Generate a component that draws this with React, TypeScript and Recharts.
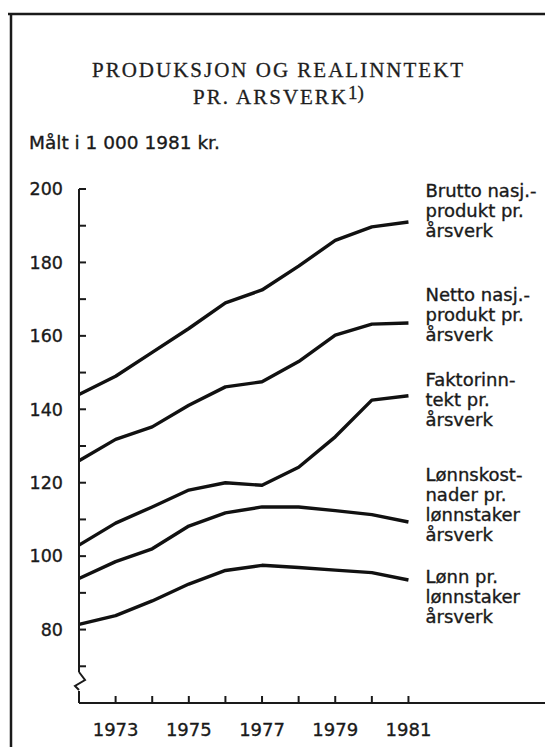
import { LabelList, Line, LineChart, XAxis, YAxis } from "recharts";

const years = [1972, 1973, 1974, 1975, 1976, 1977, 1978, 1979, 1980, 1981];
const bruttoNasjProdukt = [144, 149, 155.5, 162, 169, 172.5, 179, 186, 189.7, 191];
const nettoNasjProdukt = [126, 131.8, 135.2, 141.1, 146.1, 147.5, 153, 160.2, 163.2, 163.5];
const faktorinntekt = [103, 109, 113.4, 118, 120, 119.3, 124.2, 132.5, 142.5, 143.7];
const lonnskostnader = [93.9, 98.5, 102, 108.2, 111.8, 113.4, 113.4, 112.4, 111.3, 109.3];
const lonn = [81.4, 83.8, 87.8, 92.4, 96.1, 97.5, 96.9, 96.2, 95.5, 93.5];

const yTicks = [60, 70, 80, 90, 100, 110, 120, 130, 140, 150, 160, 170, 180, 190, 200];
const yLabels = [80, 100, 120, 140, 160, 180, 200];
const xTicks = [1973, 1974, 1975, 1976, 1977, 1978, 1979, 1980, 1981];
const xLabels = [1973, 1975, 1977, 1979, 1981];

const bruttoText = ["Brutto nasj.-", "produkt pr.", "årsverk"];
const nettoText = ["Netto nasj.-", "produkt pr.", "årsverk"];
const faktorText = ["Faktorinn-", "tekt pr.", "årsverk"];
const lonnskostText = ["Lønnskost-", "nader pr.", "lønnstaker", "årsverk"];
const lonnText = ["Lønn pr.", "lønnstaker", "årsverk"];

const data = years.map((year, i) => ({
  year,
  brutto: bruttoNasjProdukt[i],
  netto: nettoNasjProdukt[i],
  faktor: faktorinntekt[i],
  lonnskost: lonnskostnader[i],
  lonn: lonn[i],
}));

const series = [
  { key: "brutto", text: bruttoText, dy: -25 },
  { key: "netto", text: nettoText, dy: -22 },
  { key: "faktor", text: faktorText, dy: -10 },
  { key: "lonnskost", text: lonnskostText, dy: -41 },
  { key: "lonn", text: lonnText, dy: 3 },
];

const INK = "#1a1a1a";
const SANS = "'DejaVu Sans', sans-serif";
// scanned print looks a bit heavier than the plain font
const heavy = { stroke: INK, strokeWidth: 0.35 };

const endLabel = (text: string[], dy: number) => (props: any) => {
  if (props.index !== years.length - 1) return null;
  const x = props.x + 17;
  return (
    <text x={x} y={props.y + dy} fill={INK} fontFamily={SANS} fontSize={18} {...heavy}>
      {text.map((t, i) => (
        <tspan key={i} x={x} dy={i === 0 ? 0 : 20}>
          {t}
        </tspan>
      ))}
    </text>
  );
};

function YTick({ x, y, payload }: any) {
  const v = payload.value;
  if (v === 60) {
    // axis break
    return (
      <g>
        <rect x={x - 3} y={y - 31} width={6} height={19} fill="#fff" />
        <polyline
          points={`${x},${y - 31} ${x + 6},${y - 23} ${x - 4},${y - 17} ${x},${y - 13}`}
          fill="none"
          stroke={INK}
          strokeWidth={2}
        />
      </g>
    );
  }
  return (
    <g>
      <line x1={x} y1={y} x2={x + 7} y2={y} stroke={INK} strokeWidth={2} />
      {yLabels.includes(v) && (
        <text x={x - 16} y={y} dy="0.36em" textAnchor="end" fill={INK} fontFamily={SANS} fontSize={17.5} {...heavy}>
          {v}
        </text>
      )}
    </g>
  );
}

function XTick({ x, y, payload }: any) {
  const v = payload.value;
  return (
    <g>
      <line x1={x} y1={y} x2={x} y2={y - 7} stroke={INK} strokeWidth={2} />
      {xLabels.includes(v) && (
        <text x={x} y={y + 33} textAnchor="middle" fill={INK} fontFamily={SANS} fontSize={18} {...heavy}>
          {v}
        </text>
      )}
    </g>
  );
}

export default function App() {
  return (
    <div style={{ position: "absolute", left: 0, top: 0, width: 545, height: 747, background: "#fff" }}>
      <LineChart width={545} height={747} data={data} margin={{ top: 189, right: 0, bottom: 0, left: 19 }}>
        <XAxis
          dataKey="year"
          type="number"
          domain={[1972, 1984.73]}
          ticks={xTicks}
          interval={0}
          height={44}
          tickSize={0}
          tickMargin={0}
          tickLine={false}
          tick={<XTick />}
          axisLine={{ stroke: INK, strokeWidth: 2 }}
        />
        <YAxis
          type="number"
          domain={[60, 200]}
          ticks={yTicks}
          interval={0}
          width={60}
          tickSize={0}
          tickMargin={0}
          tickLine={false}
          tick={<YTick />}
          axisLine={{ stroke: INK, strokeWidth: 2 }}
        />
        {series.map((s) => (
          <Line
            key={s.key}
            dataKey={s.key}
            type="linear"
            stroke="#111"
            strokeWidth={3.4}
            strokeLinejoin="round"
            dot={false}
            isAnimationActive={false}
          >
            <LabelList dataKey={s.key} content={endLabel(s.text, s.dy)} />
          </Line>
        ))}
      </LineChart>
      <svg
        width={545}
        height={747}
        style={{ position: "absolute", left: 0, top: 0, pointerEvents: "none" }}
      >
        <line x1={8} y1={14} x2={545} y2={14} stroke={INK} strokeWidth={2.5} />
        <line x1={11} y1={13} x2={11} y2={747} stroke={INK} strokeWidth={2.5} />
        <text
          x={92}
          y={77}
          fill="#1e1e1e"
          fontFamily="'Liberation Serif', serif"
          fontSize={21}
          letterSpacing={2}
          stroke="#1e1e1e"
          strokeWidth={0.3}
        >
          PRODUKSJON OG REALINNTEKT
        </text>
        <text
          x={193}
          y={104}
          fill="#1e1e1e"
          fontFamily="'Liberation Serif', serif"
          fontSize={21}
          letterSpacing={2}
          stroke="#1e1e1e"
          strokeWidth={0.3}
        >
          PR. ARSVERK
          <tspan dy={-5} fontSize={19} letterSpacing={0}>
            1)
          </tspan>
        </text>
        <text x={29} y={149} fill={INK} fontFamily={SANS} fontSize={18.5} {...heavy}>
          Målt i 1 000 1981 kr.
        </text>
      </svg>
    </div>
  );
}
